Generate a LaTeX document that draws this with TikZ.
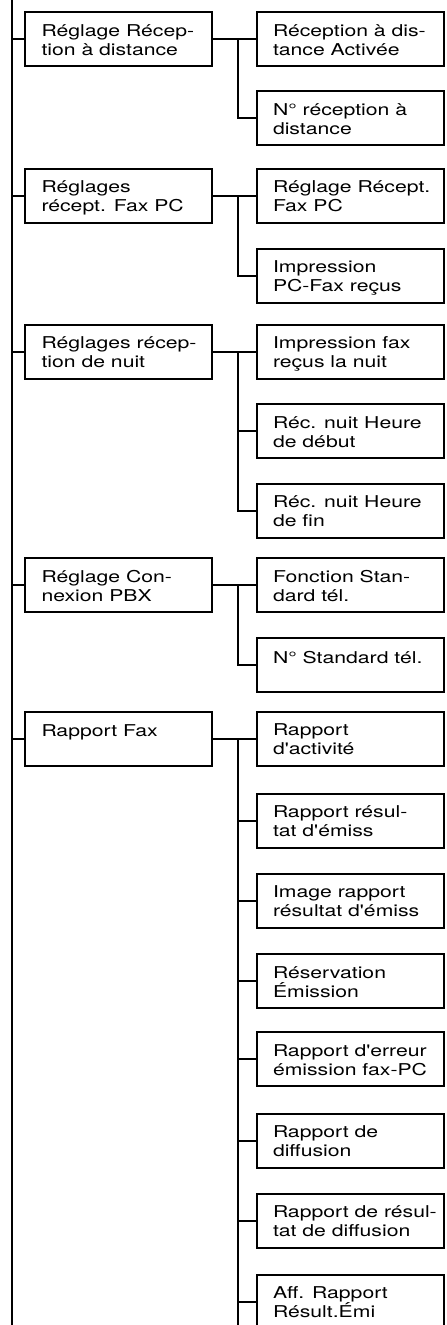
\documentclass[tikz,border=0pt]{standalone}
\usepackage{fontspec}
\newfontfamily\menufont{TeX Gyre Heros}[FakeStretch=1.3,Ligatures=TeXOff]
\tikzset{
	menubox/.style={draw,line width=2pt,minimum width=187pt,minimum height=54pt,inner sep=0pt},
	menutext/.style={anchor=north west,inner sep=0pt,align=left,
		font=\menufont\fontsize{16.3}{19}\selectfont,execute at begin node=\rule{0pt}{13pt}},
	link/.style={line width=2pt}
}
\begin{document}
\begin{tikzpicture}[x=1pt,y=-1pt]
		\useasboundingbox (0,0) rectangle (447,1325);
		\clip (0,0) rectangle (447,1325);
		\coordinate (top) at (11.5,-5);
		\coordinate (bot) at (11.5,1330);
		\coordinate (fork) at (237.5,0);
		\coordinate (end) at (237.5,1330);
		% first level
		\foreach \n/\y/\t in {1/39/{Réglage Récep-\\tion à distance},
			2/195.7/{Réglages\\récept. Fax PC},
			3/351.5/{Réglages récep-\\tion de nuit},
			4/585/{Réglage Con-\\nexion PBX},
			5/738.5/{Rapport Fax}}{
		\node[menubox] (p\n) at (118.8,\y) {};
		\node[menutext] (pt\n) at ([xshift=17pt,yshift=-13pt]p\n.north west) {\t};
		\draw[link] (p\n.west -| top) -- (p\n.west);
		}
		% second level
		\foreach \n/\y/\t in {1/39/{Réception à dis-\\tance Activée},
			2/118/{N° réception à\\distance},
			3/195.7/{Réglage Récept.\\Fax PC},
			4/275.8/{Impression\\PC-Fax reçus},
			5/351.5/{Impression fax\\reçus la nuit},
			6/431/{Réc. nuit Heure\\de début},
			7/510.6/{Réc. nuit Heure\\de fin},
			8/585/{Fonction Stan-\\dard tél.},
			9/665.3/{N° Standard tél.},
			10/738.5/{Rapport\\d'activité},
			11/820.6/{Rapport résul-\\tat d'émiss},
			12/900.5/{Image rapport\\résultat d'émiss},
			13/981/{Réservation\\Émission},
			14/1059.1/{Rapport d'erreur\\émission fax-PC},
			15/1140.5/{Rapport de\\diffusion},
			16/1220.5/{Rapport de résul-\\tat de diffusion},
			17/1301.5/{Aff. Rapport\\Résult.Émi}}{
		\node[menubox] (c\n) at (350.3,\y) {};
		\node[menutext] (ct\n) at ([xshift=17pt,yshift=-13pt]c\n.north west) {\t};
		}
		\draw[link] (top) -- (bot);
		\draw[link] (p1) -- (c1);
		\draw[link] (p1.east -| fork) |- (c2.west);
		\draw[link] (p2) -- (c3);
		\draw[link] (p2.east -| fork) |- (c4.west);
		\draw[link] (p3) -- (c5);
		\draw[link] (p3.east -| fork) |- (c7.west);
		\draw[link] (c6.west -| fork) -- (c6.west);
		\draw[link] (p4) -- (c8);
		\draw[link] (p4.east -| fork) |- (c9.west);
		\draw[link] (p5) -- (c10);
		\draw[link] (p5.east -| fork) -- (end);
		\foreach \i in {11,...,17}
		\draw[link] (c\i.west -| fork) -- (c\i.west);
	\end{tikzpicture}
\end{document}
